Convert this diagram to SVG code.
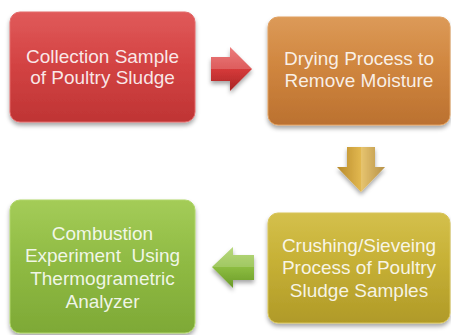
<svg xmlns="http://www.w3.org/2000/svg" width="451" height="335" viewBox="0 0 451 335">
  <defs>
    <filter id="sh" x="-10%" y="-10%" width="120%" height="130%">
      <feDropShadow dx="0" dy="3" stdDeviation="2" flood-color="#000" flood-opacity="0.35"/>
    </filter>
    <linearGradient id="gRed" x1="0" y1="0" x2="0" y2="1">
      <stop offset="0" stop-color="#e05a5a"/>
      <stop offset="0.45" stop-color="#d44444"/>
      <stop offset="1" stop-color="#bf3434"/>
    </linearGradient>
    <linearGradient id="gOrange" x1="0" y1="0" x2="0" y2="1">
      <stop offset="0" stop-color="#dc9a58"/>
      <stop offset="0.45" stop-color="#d0863f"/>
      <stop offset="1" stop-color="#bb7130"/>
    </linearGradient>
    <linearGradient id="gYellow" x1="0" y1="0" x2="0" y2="1">
      <stop offset="0" stop-color="#d4c04c"/>
      <stop offset="0.45" stop-color="#c6b035"/>
      <stop offset="1" stop-color="#b09a28"/>
    </linearGradient>
    <linearGradient id="gGreen" x1="0" y1="0" x2="0" y2="1">
      <stop offset="0" stop-color="#a4cc58"/>
      <stop offset="0.45" stop-color="#90bb44"/>
      <stop offset="1" stop-color="#7ea936"/>
    </linearGradient>
    <linearGradient id="aRed" x1="0" y1="0" x2="0" y2="1">
      <stop offset="0" stop-color="#e86060"/>
      <stop offset="0.5" stop-color="#d63a3a"/>
      <stop offset="1" stop-color="#a82424"/>
    </linearGradient>
    <linearGradient id="aGold" x1="0" y1="0" x2="1" y2="0">
      <stop offset="0" stop-color="#b88a2a"/>
      <stop offset="0.5" stop-color="#e2b850"/>
      <stop offset="1" stop-color="#a87a20"/>
    </linearGradient>
    <linearGradient id="aGreen" x1="0" y1="0" x2="0" y2="1">
      <stop offset="0" stop-color="#a8d060"/>
      <stop offset="0.5" stop-color="#8cbc40"/>
      <stop offset="1" stop-color="#6a9a28"/>
    </linearGradient>
  </defs>
  <style>
    .box { stroke-width: 1; filter: url(#sh); }
    .lbl { font-family: "Liberation Sans", Arial, sans-serif; font-size: 19px; fill: #ffffff; fill-opacity: 0.88; text-anchor: middle; }
    .arrow { filter: url(#sh); }
    .hl { fill: #ffffff; fill-opacity: 0.18; }
  </style>

  <g id="node-collection">
    <rect class="box" x="10" y="12" width="185" height="110" rx="10" fill="url(#gRed)" stroke="#e36a6a"/>
    <text class="lbl" x="102.5" y="63">Collection Sample</text>
    <text class="lbl" x="102.5" y="84">of Poultry Sludge</text>
  </g>

  <g id="node-drying">
    <rect class="box" x="268" y="17" width="182" height="108" rx="10" fill="url(#gOrange)" stroke="#e0a060"/>
    <text class="lbl" x="359" y="65">Drying Process to</text>
    <text class="lbl" x="359" y="87">Remove Moisture</text>
  </g>

  <g id="node-crushing">
    <rect class="box" x="268" y="213" width="182" height="110" rx="10" fill="url(#gYellow)" stroke="#d8c458"/>
    <text class="lbl" x="359" y="252">Crushing/Sieveing</text>
    <text class="lbl" x="359" y="274">Process of Poultry</text>
    <text class="lbl" x="359" y="297">Sludge Samples</text>
  </g>

  <g id="node-combustion">
    <rect class="box" x="10" y="200" width="185" height="133" rx="10" fill="url(#gGreen)" stroke="#b0d66a"/>
    <text class="lbl" x="102.5" y="240">Combustion</text>
    <text class="lbl" x="102.5" y="262" xml:space="preserve">Experiment  Using</text>
    <text class="lbl" x="102.5" y="285">Thermogrametric</text>
    <text class="lbl" x="102.5" y="308">Analyzer</text>
  </g>

  <g id="connectors">
    <g class="arrow">
      <polygon points="211,57 230,57 230,47 252,69 230,91 230,81 211,81" fill="url(#aRed)"/>
      <polygon class="hl" points="211,57 230,57 230,47 252,69 230,69 211,69"/>
    </g>
    <g class="arrow">
      <polygon points="347,147 375,147 375,167 385,167 361,192 337,167 347,167" fill="url(#aGold)"/>
      <polygon class="hl" points="361,147 375,147 375,167 385,167 361,192"/>
    </g>
    <g class="arrow">
      <polygon points="254,255 233,255 233,247 212,267 233,288 233,280 254,280" fill="url(#aGreen)"/>
      <polygon class="hl" points="254,255 233,255 233,247 212,267 254,267"/>
    </g>
  </g>
</svg>
